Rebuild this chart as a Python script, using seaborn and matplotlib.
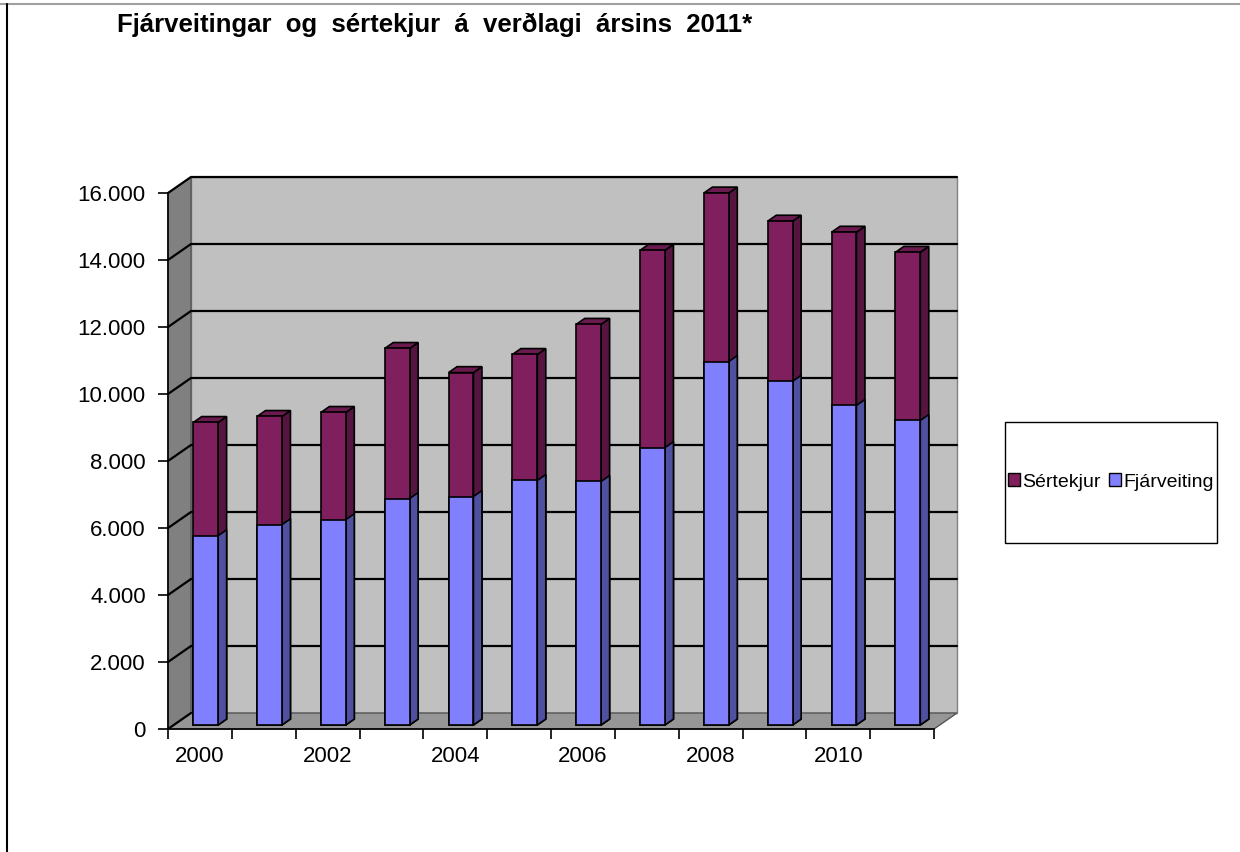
import numpy as np
import matplotlib
matplotlib.use("Agg")
import matplotlib.pyplot as plt
import seaborn as sns
from matplotlib.patches import Polygon, Patch, Rectangle
from matplotlib.lines import Line2D
from matplotlib.transforms import IdentityTransform, offset_copy

# data (millions kr., 2011 price level)
years = [2000, 2001, 2002, 2003, 2004, 2005, 2006, 2007, 2008, 2009, 2010, 2011]
fjarveiting = [5650, 5980, 6130, 6760, 6820, 7300, 7270, 8280, 10850, 10260, 9540, 9090]
sertekjur = [3380, 3230, 3200, 4480, 3700, 3760, 4690, 5890, 5030, 4780, 5170, 5020]
series_names = ["Sértekjur", "Fjárveiting"]
title = "Fjárveitingar  og  sértekjur  á  verðlagi  ársins  2011*"

totals = [a + b for a, b in zip(fjarveiting, sertekjur)]

sns.set_theme(style="white")
plt.rcParams["font.family"] = ["Liberation Sans", "DejaVu Sans"]
plt.rcParams["text.color"] = "black"
plt.rcParams["xtick.labelcolor"] = "black"
plt.rcParams["ytick.labelcolor"] = "black"

W, H = 1240, 852
fig = plt.figure(figsize=(W / 100, H / 100), dpi=100)
# front plane of the 3d box, in pixels: x 168..934, y 729 (0) .. 193 (16000)
ax = fig.add_axes([168 / W, 1 - 729 / H, (934 - 168) / W, (729 - 193) / H])
ax.set_facecolor("none")

# 3d look
DX, DY = 23, 16          # depth of the box, pixels
d1, d2 = 0.25, 0.62      # front/back depth of the bars
purple, blue = "#801F5E", "#8080FF"
purple_side, blue_side = "#561440", "#5050A0"
purple_top = "#6A1A4E"

sns.barplot(x=years, y=totals, color=purple, width=0.39, saturation=1,
            edgecolor="black", linewidth=1.2, errorbar=None, ax=ax)
sns.barplot(x=years, y=fjarveiting, color=blue, width=0.39, saturation=1,
            edgecolor="black", linewidth=1.2, errorbar=None, ax=ax)
bars = list(ax.patches)
ax.set_xlim(-0.5, len(years) - 0.5)
ax.set_ylim(0, 16000)


def proj(x, y, d):
    px, py = ax.transData.transform((x, y))
    return (px + d * DX, py + d * DY)


def poly(pts, fc, ec="black", lw=1.2, z=1):
    p = Polygon(pts, closed=True, facecolor=fc, edgecolor=ec, linewidth=lw,
                transform=IdentityTransform(), zorder=z, clip_on=False)
    ax.add_artist(p)


x0, x1 = -0.5, len(years) - 0.5
# walls and floor
poly([proj(x0, 0, 1), proj(x1, 0, 1), proj(x1, 16000, 1), proj(x0, 16000, 1)],
     "#C0C0C0", ec="#808080", lw=1, z=0.1)
poly([proj(x0, 0, 0), proj(x0, 0, 1), proj(x0, 16000, 1), proj(x0, 16000, 0)],
     "#808080", ec="#555555", lw=1, z=0.2)
poly([proj(x0, 0, 0), proj(x1, 0, 0), proj(x1, 0, 1), proj(x0, 0, 1)],
     "#969696", ec="#555555", lw=1, z=0.2)

yt = np.arange(0, 16001, 2000)
for v in yt:
    pts = [proj(x0, v, 0), proj(x0, v, 1)]
    if v > 0:
        pts.append(proj(x1, v, 1))
    xs, ys = zip(*pts)
    ax.add_artist(Line2D(xs, ys, color="black", lw=1.6, transform=IdentityTransform(),
                         zorder=0.5, clip_on=False))

# bars: shift front faces back, add side and top faces
off = offset_copy(ax.transData, fig, x=d1 * DX, y=d1 * DY, units="dots")
n = len(years)
for i, p in enumerate(bars):
    p.set_transform(off)
    p.set_zorder(2)
    p.set_clip_on(False)
    bx, bw, bh = p.get_x(), p.get_width(), p.get_height()
    side = blue_side if i >= n else purple_side
    poly([proj(bx + bw, 0, d1), proj(bx + bw, bh, d1), proj(bx + bw, bh, d2),
          proj(bx + bw, 0, d2)], side, z=1.9)
    if i < n:
        poly([proj(bx, bh, d1), proj(bx + bw, bh, d1), proj(bx + bw, bh, d2),
              proj(bx, bh, d2)], purple_top, z=1.9)

# axes
for s in ["top", "right"]:
    ax.spines[s].set_visible(False)
for s in ["left", "bottom"]:
    ax.spines[s].set_color("black")
    ax.spines[s].set_linewidth(1.2)
    ax.spines[s].set_zorder(3)
ax.grid(False)
ax.set_yticks(yt, labels=[f"{v:,}".replace(",", ".") for v in yt])
ax.set_xticks(np.arange(-0.5, n, 1.0), labels=[""] * (n + 1))
ax.set_xticks(range(0, n, 2), labels=[str(y) for y in years[::2]], minor=True)
ax.tick_params(axis="y", direction="out", length=7, width=1.2, color="black",
               pad=9, labelsize=16, labelcolor="black", left=True)
ax.tick_params(axis="x", which="major", direction="out", length=7, width=1.2,
               color="black", bottom=True)
ax.tick_params(axis="x", which="minor", length=0, pad=12, labelsize=16,
               labelcolor="black")
ax.set_xlabel("")
ax.set_ylabel("")

fig.text(117 / W, 1 - 32 / H, title, fontsize=18.5, fontweight="bold",
         color="black", ha="left", va="baseline")

# legend box
fig.add_artist(Rectangle((1005 / W, 1 - 543 / H), 212 / W, 121 / H,
                         transform=fig.transFigure, facecolor="white",
                         edgecolor="black", linewidth=1))
handles = [Patch(facecolor=purple, edgecolor="black", label=series_names[0]),
           Patch(facecolor=blue, edgecolor="black", label=series_names[1])]
leg = fig.legend(handles=handles, loc="center", bbox_to_anchor=(1111 / W, 1 - 482 / H),
                 ncol=2, frameon=False, fontsize=14, handlelength=0.6, handleheight=0.6,
                 handletextpad=0.15, columnspacing=0.4, borderpad=0)
for t in leg.get_texts():
    t.set_color("black")

# page border lines
fig.add_artist(Line2D([0, 1], [1 - 4 / H] * 2, color="#a0a0a0", lw=1.5))
fig.add_artist(Line2D([7 / W] * 2, [0, 1 - 4 / H], color="black", lw=1.5))

fig.savefig("out.png", dpi=100)
